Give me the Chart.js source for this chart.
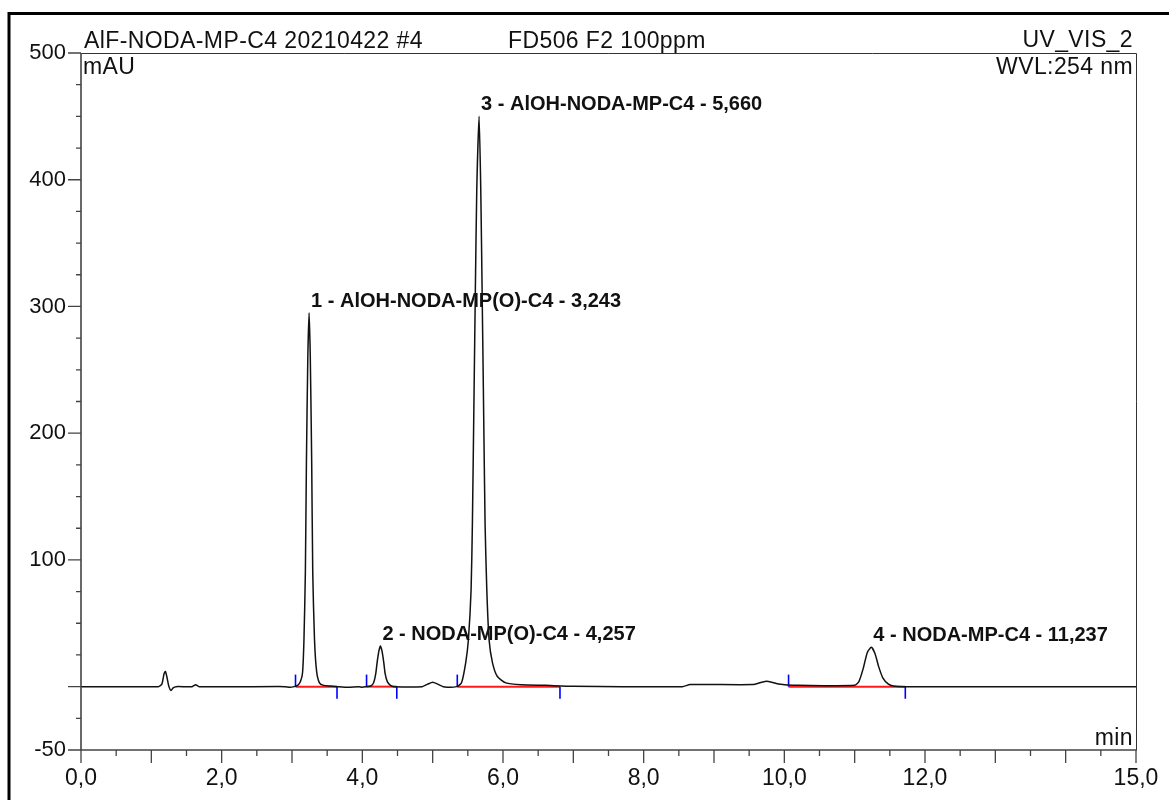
<!DOCTYPE html>
<html>
<head>
<meta charset="utf-8">
<script src="https://cdn.jsdelivr.net/npm/chart.js@4/dist/chart.umd.min.js"></script>
<style>
  body { margin: 0; background: #fff; }
  canvas { display: block; }
</style>
</head>
<body>
<canvas id="chromChart" width="1169" height="800"></canvas>
<script>
// trace (time in min, signal in mAU)
const traceTime = [
  0.0, 1.10, 1.15, 1.18, 1.20, 1.22, 1.25, 1.28, 1.31, 1.35,
  1.58, 1.63, 1.68, 2.90, 2.97, 3.03, 3.08, 3.12, 3.15, 3.17,
  3.19, 3.205, 3.225, 3.243, 3.26, 3.28, 3.295, 3.32, 3.35, 3.39,
  3.45, 3.55, 3.65, 3.80, 3.95, 4.00, 4.06, 4.12, 4.16, 4.19,
  4.21, 4.235, 4.257, 4.28, 4.305, 4.325, 4.355, 4.40, 4.45, 4.85,
  4.93, 5.00, 5.07, 5.15, 5.34, 5.41, 5.47, 5.508, 5.546, 5.565,
  5.589, 5.607, 5.627, 5.66, 5.684, 5.703, 5.721, 5.745, 5.77, 5.802,
  5.85, 5.92, 6.04, 6.26, 6.60, 7.00, 8.55, 8.66, 9.55, 9.68,
  9.75, 9.82, 9.92, 10.00, 10.05, 10.20, 11.00, 11.06, 11.12, 11.18,
  11.237, 11.29, 11.34, 11.40, 11.48, 11.55, 11.70, 15.0
]
const traceMAU = [
  0, 0, 2, 10, 12, 8, 0, -3, -1, 0,
  0, 1.5, 0, 0, -0.5, 0, 1, 4, 11, 37,
  90, 177, 260, 295, 260, 177, 90, 37, 12, 3,
  1, 0.5, 0, -0.5, 0, -0.5, 0, 0.5, 3, 10,
  19, 28, 32, 28, 19, 10, 4, 1, 0, 0,
  2, 3.5, 2, 0, 0, 3, 19, 37, 76, 129,
  234, 313, 392, 450, 392, 313, 234, 129, 76, 37,
  19, 8, 3, 1.5, 1, 0.3, 0, 1.6, 1.6, 3.5,
  4.2, 3.5, 2, 1.5, 1.2, 1, 1, 4, 14, 27,
  31, 26, 16, 7, 2, 0.5, 0, 0
]

// peak table
const peakNo = [1, 2, 3, 4]
const peakName = ['AlOH-NODA-MP(O)-C4', 'NODA-MP(O)-C4', 'AlOH-NODA-MP-C4', 'NODA-MP-C4']
const peakRT = [3.243, 4.257, 5.660, 11.237]
const peakHeight = [295, 32, 450, 31]
const peakStart = [3.05, 4.06, 5.35, 10.06]
const peakEnd = [3.64, 4.49, 6.81, 11.72]

// axis ticks
const xLabelValues = [0, 2, 4, 6, 8, 10, 12, 15]
const yLabelValues = [-50, 100, 200, 300, 400, 500]

const markerH = 9.5
const FONT = '"Liberation Sans", Arial, sans-serif'

const traceData = traceTime.map((t, i) => ({x: t, y: traceMAU[i]}))

const datasets = [{
  data: traceData,
  borderColor: '#111',
  borderWidth: 1.5,
  pointRadius: 0,
  showLine: true,
  tension: 0.2,
  order: 0
}]
peakStart.forEach((s, i) => {
  datasets.push({
    data: [{x: s, y: 0}, {x: peakEnd[i], y: 0}],
    borderColor: '#ff1a1a',
    borderWidth: 2,
    pointRadius: 0,
    showLine: true,
    order: 2
  })
  datasets.push({
    data: [{x: s, y: 0}, {x: s, y: markerH}],
    borderColor: '#0000ff',
    borderWidth: 1.6,
    pointRadius: 0,
    showLine: true,
    order: 1
  })
  datasets.push({
    data: [{x: peakEnd[i], y: 0}, {x: peakEnd[i], y: -markerH}],
    borderColor: '#0000ff',
    borderWidth: 1.6,
    pointRadius: 0,
    showLine: true,
    order: 1
  })
})

const fmt = v => v.toFixed(1).replace('.', ',')

const frame = {
  id: 'frame',
  afterDraw (chart) {
    const {ctx, chartArea: a, scales: {x, y}} = chart
    ctx.save()
    // outer border
    ctx.strokeStyle = '#000'
    ctx.lineWidth = 3
    ctx.beginPath()
    ctx.moveTo(9, 800)
    ctx.lineTo(9, 13.5)
    ctx.lineTo(1169, 13.5)
    ctx.stroke()

    // plot box
    ctx.strokeStyle = '#333'
    ctx.lineWidth = 1
    ctx.beginPath()
    ctx.moveTo(a.left, a.top + 0.5)
    ctx.lineTo(a.right + 0.5, a.top + 0.5)
    ctx.lineTo(a.right + 0.5, a.bottom)
    ctx.stroke()
    ctx.lineWidth = 1.6
    ctx.strokeStyle = '#444'
    ctx.beginPath()
    ctx.moveTo(a.left, a.top)
    ctx.lineTo(a.left, a.bottom)
    ctx.lineTo(a.right + 1, a.bottom)
    ctx.stroke()

    // tick marks
    ctx.lineWidth = 1.3
    ctx.beginPath()
    x.ticks.forEach(t => {
      const px = x.getPixelForValue(t.value)
      const len = Number.isInteger(t.value) ? 13 : 6
      ctx.moveTo(px, a.bottom)
      ctx.lineTo(px, a.bottom + len)
    })
    y.ticks.forEach(t => {
      const py = y.getPixelForValue(t.value)
      const len = (t.value % 100 === 0 || t.value === -50) ? 13 : 5
      ctx.moveTo(a.left, py)
      ctx.lineTo(a.left - len, py)
    })
    ctx.stroke()

    // header texts
    ctx.fillStyle = '#111'
    ctx.font = '23px ' + FONT
    ctx.letterSpacing = '0.4px'
    ctx.textBaseline = 'alphabetic'
    ctx.textAlign = 'left'
    ctx.fillText('AlF-NODA-MP-C4 20210422 #4', 84, 48)
    ctx.fillText('FD506 F2 100ppm', 508, 48)
    ctx.fillText('mAU', 83, 74)
    ctx.textAlign = 'right'
    ctx.fillText('UV_VIS_2', 1133, 47)
    ctx.fillText('WVL:254 nm', 1133, 74)
    ctx.fillText('min', 1133, 745)
    ctx.letterSpacing = '0px'

    // peak labels
    ctx.textAlign = 'left'
    ctx.font = 'bold 20px ' + FONT
    peakNo.forEach((n, i) => {
      const px = x.getPixelForValue(peakRT[i]) + 2
      const py = y.getPixelForValue(peakHeight[i]) - 6
      ctx.fillText(n + ' - ' + peakName[i] + ' - ' + peakRT[i].toFixed(3).replace('.', ','), px, py)
    })
    ctx.restore()
  }
}

new Chart(document.getElementById('chromChart'), {
  type: 'scatter',
  data: {datasets},
  options: {
    responsive: false,
    animation: false,
    devicePixelRatio: 1,
    layout: {padding: {top: 53, right: 33, left: 0, bottom: 0}},
    plugins: {legend: {display: false}, tooltip: {enabled: false}},
    scales: {
      x: {
        type: 'linear',
        min: 0,
        max: 15,
        afterFit (s) { s.height = 50; s.paddingLeft = 0; s.paddingRight = 0 },
        grid: {display: false, drawTicks: false},
        border: {display: false},
        ticks: {
          stepSize: 0.5,
          autoSkip: false,
          maxRotation: 0,
          padding: 15,
          color: '#111',
          font: {family: FONT, size: 23},
          callback: v => xLabelValues.includes(v) ? fmt(v) : ''
        }
      },
      y: {
        type: 'linear',
        min: -50,
        max: 500,
        afterFit (s) { s.width = 81; s.paddingTop = 0; s.paddingBottom = 0 },
        grid: {display: false, drawTicks: false},
        border: {display: false},
        ticks: {
          stepSize: 25,
          autoSkip: false,
          padding: 15,
          color: '#111',
          font: {family: FONT, size: 22},
          callback: v => yLabelValues.includes(v) ? String(v) : ''
        }
      }
    }
  },
  plugins: [frame]
})
</script>
</body>
</html>
